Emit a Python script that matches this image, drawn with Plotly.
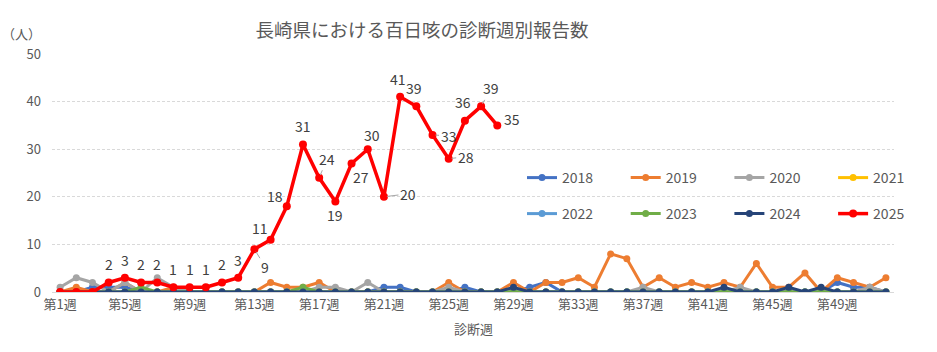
import plotly.graph_objects as go

weeks = list(range(1, 53))
week_ticks = [1, 5, 9, 13, 17, 21, 25, 29, 33, 37, 41, 45, 49]
week_ticktext = [f"第{w}週" for w in week_ticks]

s2018 = [0,0,1,1,1,0,0,0,0,0,0,0,0,0,0,0,0,0,0,0,1,1,0,0,0,1,0,0,0,1,2,0,0,0,0,0,0,0,0,0,0,0,0,0,0,0,0,0,2,1,1,0]
s2019 = [0,1,0,0,2,0,0,1,0,0,0,0,0,2,1,1,2,0,0,0,0,0,0,0,2,0,0,0,2,0,2,2,3,1,8,7,1,3,1,2,1,2,1,6,1,1,4,0,3,2,1,3]
s2020 = [1,3,2,0,2,0,3,1,0,0,0,0,0,0,0,0,1,1,0,2,0,0,0,0,1,0,0,0,0,0,0,0,0,0,0,0,1,0,0,0,0,0,1,0,0,0,0,0,0,0,1,0]
s2021 = [0]*52
s2022 = [0]*52
s2023 = [0,0,0,0,0,1,0,0,0,0,0,0,0,0,0,1,0,0,0,0,0,0,0,0,0,0,0,0,0,0,0,0,0,0,0,0,0,0,0,0,0,0,0,0,0,0,0,0,0,0,0,0]
s2024 = [0,0,0,0,0,0,0,0,0,0,0,0,0,0,0,0,0,0,0,0,0,0,0,0,0,0,0,0,1,0,0,0,0,0,0,0,0,0,0,0,0,1,0,0,0,1,0,1,0,0,0,0]
s2025 = [0,0,0,2,3,2,2,1,1,1,2,3,9,11,18,31,24,19,27,30,20,41,39,33,28,36,39,35]

series_names = ["2018", "2019", "2020", "2021", "2022", "2023", "2024", "2025"]
series_values = [s2018, s2019, s2020, s2021, s2022, s2023, s2024, s2025]
colors = ["#4472C4", "#ED7D31", "#A5A5A5", "#FFC000", "#5B9BD5", "#70AD47", "#264478", "#FF0000"]

# label placement (pixel offsets from the point; leader flag)
label_offsets = {
    4: (0, 18, False), 5: (0, 18, False), 6: (0, 18, False), 7: (0, 18, False),
    8: (0, 18, False), 9: (0, 18, False), 10: (0, 18, False), 11: (0, 18, False),
    12: (0, 18, False), 13: (11, -18, True), 14: (-11, 12, False), 15: (-12, 10, False),
    16: (0, 18, False), 17: (8, 19, True), 18: (0, -13, False), 19: (9, -14, False),
    20: (4, 14, False), 21: (24, 3, True), 22: (-2, 18, False), 23: (-2, 18, False),
    24: (16, -1, True), 25: (17, 2, True), 26: (-2, 19, False), 27: (10, 18, True),
    28: (15, 6, False),
}

FONT = "Noto Sans CJK JP, Noto Sans, sans-serif"
W, H = 937, 352
L, R, T, B = 52, 43, 54, 60
PW, PH = W - L - R, H - T - B

fig = go.Figure()
for i, (name, vals, col) in enumerate(zip(series_names, series_values, colors)):
    is_red = name == "2025"
    fig.add_trace(go.Scatter(
        x=weeks[:len(vals)], y=vals, name=name, mode="lines+markers",
        line=dict(color=col, width=3.5 if is_red else 3),
        marker=dict(color=col, size=8 if is_red else 7),
        legend="legend" if i == 0 else f"legend{i+1}",
        hoverinfo="x+y+name",
    ))

annotations = []
for wk, (dx, dy, leader) in label_offsets.items():
    v = s2025[wk - 1]
    if leader:
        annotations.append(dict(
            x=wk, y=v, xref="x", yref="y", text=str(v), showarrow=True,
            ax=dx, ay=-dy, arrowhead=0, arrowwidth=1, arrowcolor="#A6A6A6",
            standoff=3, font=dict(family=FONT, size=14, color="#404040")))
    else:
        annotations.append(dict(
            x=wk, y=v, xref="x", yref="y", text=str(v), showarrow=False,
            xshift=dx, yshift=dy, font=dict(family=FONT, size=14, color="#404040")))

annotations.append(dict(text="（人）", xref="paper", yref="paper", x=0, y=1,
                        xanchor="center", yanchor="middle",
                        xshift=-31, yshift=21, showarrow=False,
                        font=dict(family=FONT, size=13, color="#595959")))
annotations.append(dict(text="診断週", xref="paper", yref="paper", x=0.5, y=0,
                        yshift=-36, yanchor="middle", showarrow=False,
                        font=dict(family=FONT, size=13, color="#595959")))

legend_layouts = {}
for i in range(8):
    row, col = divmod(i, 4)
    key = "legend" if i == 0 else f"legend{i+1}"
    px = 522 + 103.7 * col
    py = 178 + 36 * row
    legend_layouts[key] = dict(
        xref="paper", yref="paper",
        x=(px - L) / PW, y=(H - B - py) / PH,
        xanchor="left", yanchor="middle", orientation="h",
        bgcolor="rgba(0,0,0,0)", itemwidth=30,
        font=dict(family=FONT, size=14, color="#595959"),
    )

fig.update_layout(
    width=W, height=H,
    margin=dict(l=L, r=R, t=T, b=B, autoexpand=False),
    paper_bgcolor="white", plot_bgcolor="white",
    font=dict(family=FONT, color="#595959"),
    title=dict(text="長崎県における百日咳の診断週別報告数", x=422 / W, xanchor="center",
               y=1 - 31 / H, yanchor="middle", xref="container", yref="container",
               font=dict(family=FONT, size=18.5, color="#595959")),
    xaxis=dict(range=[0.5, 52.5], tickvals=week_ticks, ticktext=week_ticktext,
               showgrid=False, zeroline=False, showline=True, linecolor="#D9D9D9",
               tickfont=dict(family=FONT, size=13, color="#595959"), ticks=""),
    yaxis=dict(range=[0, 50], dtick=10, showgrid=True, gridcolor="#D9D9D9",
               griddash="3px,2px", zeroline=False, ticks="", ticklabelstandoff=10,
               tickfont=dict(family=FONT, size=13, color="#595959")),
    annotations=annotations,
    showlegend=True,
    **legend_layouts,
)

fig.write_html("out.html")
